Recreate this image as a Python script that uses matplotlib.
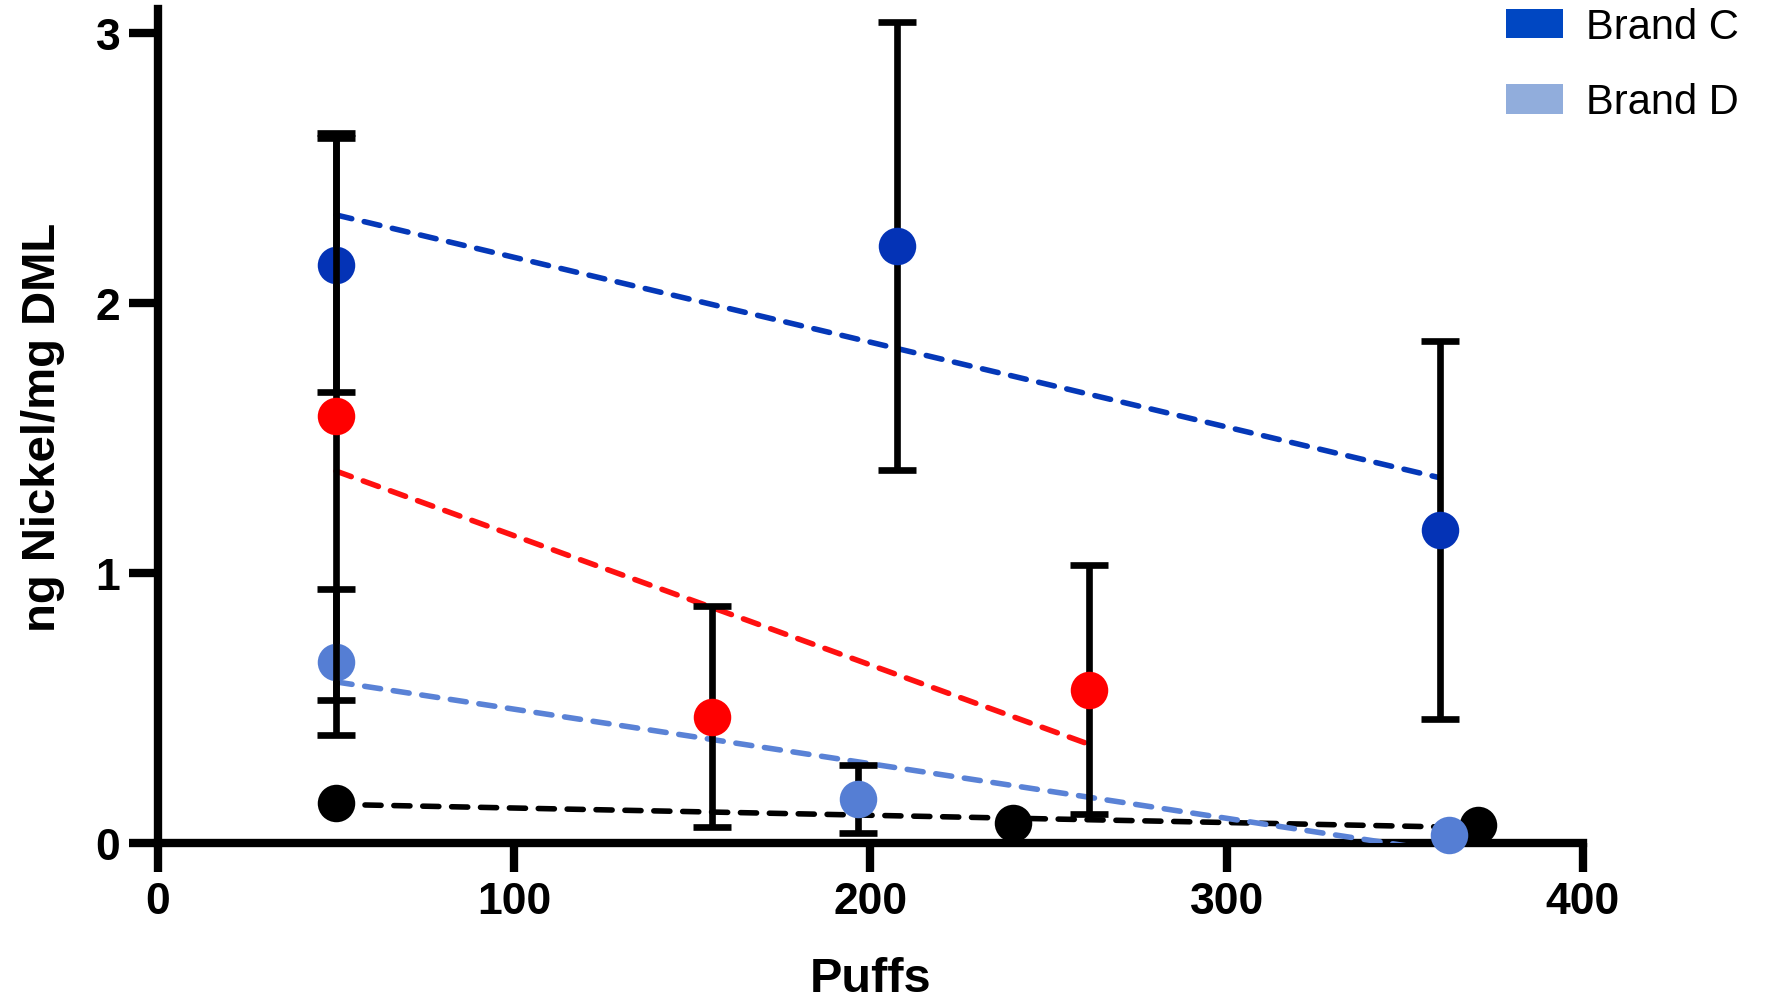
import numpy as np
import matplotlib
matplotlib.use("Agg")
import matplotlib.pyplot as plt
from matplotlib.patches import Patch

# ---- data ----
c_x = [50, 207.5, 360]
c_y = [2.14, 2.21, 1.16]
c_err = [0.47, 0.83, 0.70]

k_x = [50, 240, 370.6]
k_y = [0.15, 0.075, 0.067]
k_err = [0.0, 0.0, 0.0]

d_x = [50, 196.4, 362.4]
d_y = [0.67, 0.163, 0.03]
d_err = [0.27, 0.125, 0.0]

r_x = [50, 155.5, 261.3]
r_y = [1.58, 0.468, 0.568]
r_err = [1.05, 0.41, 0.46]

x_ticks = [0, 100, 200, 300, 400]
y_ticks = [0, 1, 2, 3]
legend_labels = ["Brand C", "Brand D"]

plt.rcParams['font.family'] = ['Liberation Sans', 'DejaVu Sans']

fig = plt.figure(figsize=(17.69, 10.03), dpi=100)
ax = fig.add_axes([0.0893, 0.1585, 0.8055, 0.8318])

series = [
    (c_x, c_y, c_err, '#0433B6', '#0538B8'),
    (k_x, k_y, k_err, '#000000', '#000000'),
    (d_x, d_y, d_err, '#557ED4', '#5A82D6'),
    (r_x, r_y, r_err, '#FF0000', '#FF1010'),
]

for i, (xs, ys, es, mcol, lcol) in enumerate(series):
    z = 3 + i
    xs_a = np.asarray(xs); ys_a = np.asarray(ys)
    slope, icpt = np.polyfit(xs_a, ys_a, 1)
    xf = np.array([xs_a.min(), xs_a.max()])
    ln, = ax.plot(xf, slope * xf + icpt, color=lcol, lw=4, zorder=2.6,
                  dash_capstyle='round', clip_on=True)
    ln.set_dashes((2.9, 2.3))
    es_a = np.asarray(es)
    mask = es_a > 0
    if mask.any():
        ax.errorbar(xs_a[mask], ys_a[mask], yerr=es_a[mask], fmt='none',
                    ecolor='black', elinewidth=4.8, capsize=14, capthick=4.8,
                    zorder=z, clip_on=False)
    ax.plot(xs_a, ys_a, 'o', color=mcol, markersize=27, markeredgewidth=0,
            zorder=z + 0.5, clip_on=False)

ax.set_xlim(0, 400)
ax.set_ylim(0, 3.09)
ax.set_xticks(x_ticks)
ax.set_yticks(y_ticks)
ax.set_xticklabels([str(v) for v in x_ticks])
ax.set_yticklabels([str(v) for v in y_ticks])

for s in ['top', 'right']:
    ax.spines[s].set_visible(False)
for s in ['left', 'bottom']:
    ax.spines[s].set_linewidth(6)
    ax.spines[s].set_zorder(2.5)

ax.tick_params(axis='both', direction='out', length=21, width=6, pad=6,
               labelsize=32)
for lab in ax.get_xticklabels() + ax.get_yticklabels():
    lab.set_fontweight('bold')

ax.set_xlabel('Puffs', fontsize=35, fontweight='bold')
ax.set_ylabel('ng Nickel/mg DML', fontsize=34, fontweight='bold')
ax.xaxis.set_label_coords(0.5, -0.135)
ax.yaxis.set_label_coords(-0.0653, 0.5)

handles = [Patch(facecolor='#0047C2', edgecolor='none'),
           Patch(facecolor='#91ADDC', edgecolor='none')]
fig.legend(handles, legend_labels, loc='upper left',
           bbox_to_anchor=(1506 / 1769, 1 - 8 / 1003), frameon=False,
           fontsize=30, handlelength=1.36, handleheight=0.72,
           handletextpad=0.55, labelspacing=0.85, borderpad=0,
           borderaxespad=0)

fig.savefig('out.png', dpi=100)
